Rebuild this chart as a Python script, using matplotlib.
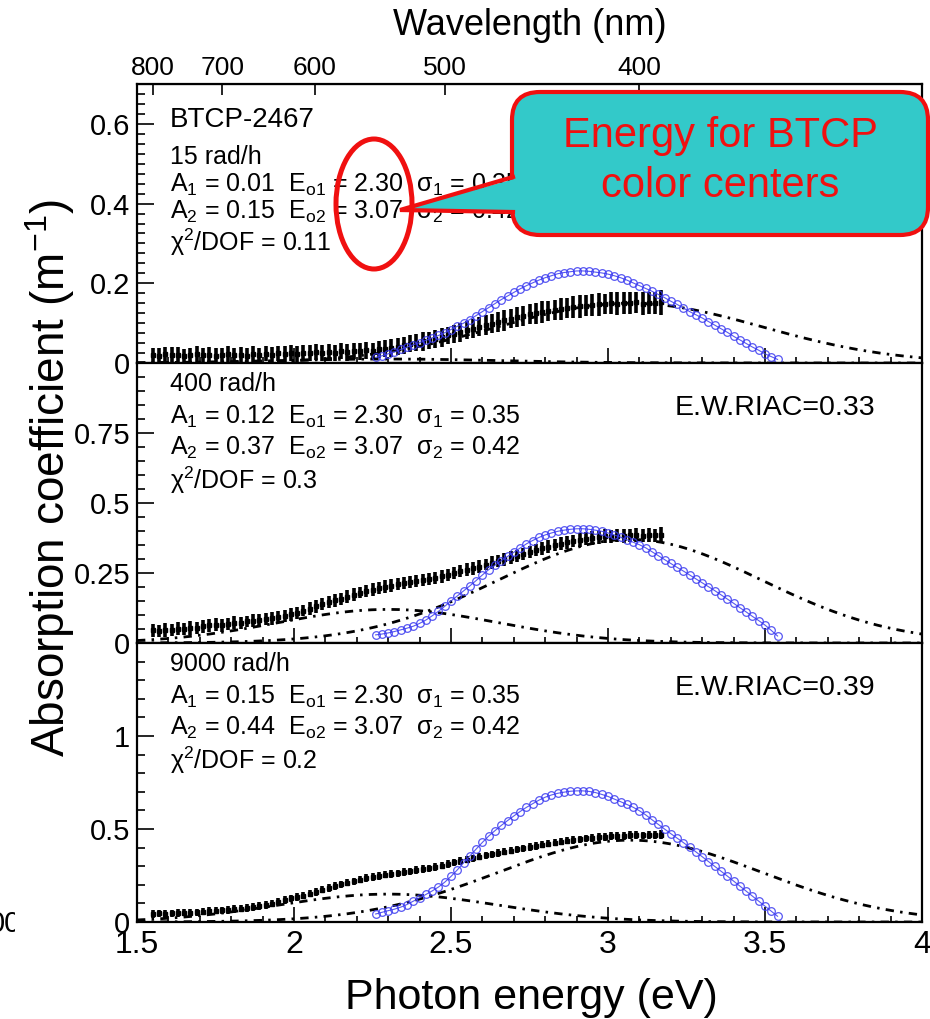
import numpy as np
import matplotlib
matplotlib.use("Agg")
from matplotlib import pyplot as plt
from matplotlib.patches import FancyBboxPatch, Polygon, Ellipse
from matplotlib.ticker import MultipleLocator, FixedLocator, NullLocator, FuncFormatter
from matplotlib.transforms import Bbox

plt.rcParams["font.family"] = ["Liberation Sans", "DejaVu Sans"]
plt.rcParams["mathtext.fontset"] = "custom"
plt.rcParams["mathtext.rm"] = "Liberation Sans"
plt.rcParams["mathtext.it"] = "Liberation Sans:italic"
plt.rcParams["lines.scale_dashes"] = False

# measured spectra, 1.55 .. 3.17 eV in 0.02 eV steps
energy = np.round(np.arange(1.55, 3.1701, 0.02), 2)

riac_15 = [.020, .018, .022, .019, .021, .017, .020, .022, .019, .021,
           .018, .020, .022, .019, .021, .018, .022, .020, .023, .021,
           .024, .022, .025, .023, .026, .024, .027, .025, .027, .026,
           .029, .027, .030, .029, .032, .031, .034, .036, .038, .041,
           .044, .048, .051, .054, .057, .061, .064, .069, .073, .077,
           .082, .086, .091, .095, .099, .103, .107, .111, .115, .118,
           .122, .125, .128, .130, .133, .135, .138, .140, .142, .144,
           .145, .147, .148, .150, .149, .151, .150, .152, .149, .151,
           .150, .152]
err_15 = [.018, .019, .017, .020, .018, .019, .017, .020, .019, .018,
          .019, .018, .020, .019, .018, .019, .020, .018, .019, .019,
          .019, .020, .019, .020, .019, .020, .020, .019, .020, .020,
          .020, .021, .020, .021, .021, .020, .021, .021, .022, .021,
          .022, .021, .022, .023, .022, .023, .023, .022, .023, .024,
          .023, .024, .024, .025, .024, .025, .026, .024, .025, .026,
          .025, .026, .027, .025, .026, .027, .026, .027, .028, .026,
          .027, .028, .026, .027, .029, .027, .028, .027, .029, .028,
          .027, .032]

riac_400 = [.045, .043, .048, .046, .051, .049, .055, .054, .060, .063,
            .066, .064, .069, .072, .071, .077, .079, .081, .085, .088,
            .092, .097, .102, .108, .116, .123, .131, .139, .146, .152,
            .158, .166, .172, .180, .186, .191, .197, .201, .205, .210,
            .214, .218, .222, .225, .229, .233, .238, .243, .249, .256,
            .262, .267, .273, .280, .286, .292, .299, .305, .311, .318,
            .325, .331, .338, .344, .349, .355, .360, .364, .368, .372,
            .375, .378, .381, .380, .383, .382, .384, .386, .383, .385,
            .384, .387]
err_400 = [.024, .022, .025, .021, .023, .022, .025, .021, .023, .022,
           .022, .023, .021, .023, .022, .021, .023, .022, .021, .023,
           .022, .021, .023, .022, .021, .022, .023, .021, .022, .022,
           .021, .022, .023, .021, .022, .022, .021, .023, .022, .021,
           .022, .021, .022, .023, .021, .022, .022, .023, .021, .022,
           .022, .023, .022, .021, .023, .022, .023, .022, .021, .023,
           .023, .022, .024, .023, .022, .024, .023, .022, .024, .023,
           .024, .023, .025, .024, .023, .025, .024, .026, .023, .025,
           .024, .028]

riac_9000 = [.045, .047, .044, .048, .047, .050, .049, .053, .055, .058,
             .061, .063, .066, .069, .072, .076, .080, .086, .092, .099,
             .110, .119, .127, .134, .142, .151, .162, .173, .184, .193,
             .202, .211, .220, .228, .235, .242, .248, .253, .258, .263,
             .268, .274, .280, .285, .290, .296, .303, .311, .320, .328,
             .336, .343, .351, .358, .365, .371, .377, .383, .390, .397,
             .404, .410, .416, .422, .427, .432, .437, .441, .445, .449,
             .452, .456, .459, .461, .463, .464, .466, .467, .466, .468,
             .469, .470]
err_9000 = [.022, .020, .023, .019, .021, .020, .023, .019, .020, .022,
            .020, .019, .021, .020, .019, .020, .021, .019, .020, .020,
            .019, .020, .019, .021, .020, .019, .020, .019, .021, .020,
            .019, .020, .019, .020, .021, .019, .020, .019, .020, .019,
            .020, .019, .021, .020, .019, .020, .019, .021, .020, .019,
            .020, .019, .020, .021, .019, .020, .019, .020, .021, .019,
            .020, .021, .019, .020, .021, .020, .019, .021, .020, .021,
            .021, .020, .022, .021, .020, .022, .021, .023, .020, .022,
            .021, .025]

# blue reference curve, 2.26 .. 3.54 eV in 0.02 eV steps
ref_energy = np.round(np.arange(2.26, 3.5401, 0.02), 2)

ref_15 = [.014, .018, .023, .028, .034, .040, .046, .051, .057, .063,
          .069, .076, .084, .092, .100, .109, .119, .129, .139, .149,
          .159, .168, .177, .186, .194, .201, .208, .214, .219, .224,
          .227, .229, .231, .231, .230, .228, .226, .223, .219, .214,
          .208, .201, .194, .187, .180, .172, .164, .155, .147, .138,
          .129, .121, .113, .104, .095, .086, .077, .067, .058, .049,
          .040, .032, .023, .016, .009]
ref_400 = [.029, .032, .036, .041, .047, .053, .060, .070, .082, .097,
           .113, .131, .150, .168, .186, .204, .223, .243, .262, .278,
           .294, .309, .324, .339, .354, .366, .377, .386, .393, .399,
           .403, .406, .408, .408, .406, .403, .399, .393, .386, .378,
           .369, .360, .351, .340, .326, .312, .298, .284, .270, .257,
           .243, .229, .215, .201, .187, .172, .157, .142, .126, .111,
           .095, .080, .064, .045, .025]
ref_9000 = [.043, .052, .061, .069, .080, .094, .112, .130, .148, .167,
            .188, .214, .245, .280, .318, .355, .392, .428, .462, .491,
            .519, .545, .570, .594, .616, .636, .655, .671, .683, .692,
            .698, .703, .705, .705, .702, .696, .686, .675, .661, .647,
            .632, .617, .598, .576, .550, .525, .500, .475, .451, .427,
            .402, .377, .351, .325, .299, .273, .247, .220, .193, .166,
            .139, .112, .085, .058, .031]

# two-gaussian fit parameters
dose_rates = ["15 rad/h", "400 rad/h", "9000 rad/h"]
amp1 = [0.01, 0.12, 0.15]
amp2 = [0.15, 0.37, 0.44]
e01, e02 = 2.30, 3.07
sig1, sig2 = 0.35, 0.42
chi2_dof = ["0.11", "0.3", "0.2"]
ew_riac = [None, "0.33", "0.39"]

spectra = [riac_15, riac_400, riac_9000]
errors = [err_15, err_400, err_9000]
ref_curves = [ref_15, ref_400, ref_9000]
y_tops = [0.7, 1.0, 1.5]
y_major = [[0, 0.2, 0.4, 0.6], [0, 0.25, 0.5, 0.75], [0, 0.5, 1.0]]
y_minor = [0.025, 0.05, 0.1]

fig = plt.figure(figsize=(9.3, 10.19), dpi=100)
left, width = 137 / 930, 785 / 930
edges = [84, 363, 643, 922]
axes = []
for i in range(3):
    bottom = 1 - edges[i + 1] / 1019
    height = (edges[i + 1] - edges[i]) / 1019
    ax = fig.add_axes([left, bottom, width, height], sharex=axes[0] if axes else None)
    axes.append(ax)

gfmt = FuncFormatter(lambda v, pos: f"{v:g}")
xs = np.linspace(1.5, 4.0, 600)
dash_dot = (6, 4.5, 1.8, 4.5)

for i, ax in enumerate(axes):
    g1 = amp1[i] * np.exp(-(xs - e01) ** 2 / (2 * sig1 ** 2))
    g2 = amp2[i] * np.exp(-(xs - e02) ** 2 / (2 * sig2 ** 2))
    ax.plot(xs, g1, color="k", lw=2, dashes=dash_dot, zorder=2)
    ax.plot(xs, g2, color="k", lw=2, dashes=dash_dot, zorder=2)
    ax.errorbar(energy, spectra[i], yerr=errors[i], fmt="s", ms=3, color="k",
                elinewidth=2.6, capsize=0, zorder=3)
    ax.plot(ref_energy, ref_curves[i], "-o", color="#3a3af0", mfc="none", ms=5.5,
            mew=0.9, lw=0.8, alpha=0.85, zorder=4)

    ax.set_xlim(1.5, 4.0)
    ax.set_ylim(0, y_tops[i])
    ax.xaxis.set_major_locator(MultipleLocator(0.5))
    ax.xaxis.set_minor_locator(MultipleLocator(0.1))
    ax.yaxis.set_major_locator(FixedLocator(y_major[i]))
    ax.yaxis.set_minor_locator(MultipleLocator(y_minor[i]))
    ax.yaxis.set_major_formatter(gfmt)
    ax.xaxis.set_major_formatter(gfmt)
    ax.tick_params(which="both", direction="in", top=False, right=False, width=1.2)
    ax.tick_params(axis="y", which="major", length=12, labelsize=21, pad=5)
    ax.tick_params(axis="y", which="minor", length=6)
    ax.tick_params(axis="x", which="major", length=11, labelsize=23, pad=6)
    ax.tick_params(axis="x", which="minor", length=4.5)
    for s in ax.spines.values():
        s.set_linewidth(1.6)
    if i < 2:
        ax.tick_params(axis="x", labelbottom=False)

    # fit summary
    tx = 0.042
    rows = [0.738, 0.638, 0.54, 0.434] if i == 0 else [0.925, 0.808, 0.695, 0.58]
    ax.text(tx, rows[0], dose_rates[i], transform=ax.transAxes, fontsize=18, va="center")
    ax.text(tx, rows[1], f"A$_1$ = {amp1[i]:.2f}  E$_{{\\mathrm{{o1}}}}$ = {e01:.2f}  σ$_1$ = {sig1:.2f}",
            transform=ax.transAxes, fontsize=18, va="center")
    ax.text(tx, rows[2], f"A$_2$ = {amp2[i]:.2f}  E$_{{\\mathrm{{o2}}}}$ = {e02:.2f}  σ$_2$ = {sig2:.2f}",
            transform=ax.transAxes, fontsize=18, va="center")
    ax.text(tx, rows[3], f"χ$^2$/DOF = {chi2_dof[i]}", transform=ax.transAxes,
            fontsize=18, va="center")
    if ew_riac[i]:
        ax.text(0.685, 0.839, f"E.W.RIAC={ew_riac[i]}", transform=ax.transAxes,
                fontsize=20.5, va="center")

axes[0].text(0.042, 0.871, "BTCP-2467", transform=axes[0].transAxes, fontsize=20, va="center")

# wavelength scale on top
hc = 1239.84
with np.errstate(divide="ignore"):
    sec = axes[0].secondary_xaxis("top", functions=(lambda e: hc / np.asarray(e, float),
                                                   lambda w: hc / np.asarray(w, float)))
sec.set_xticks([800, 700, 600, 500, 400])
sec.xaxis.set_minor_locator(NullLocator())
sec.xaxis.set_major_formatter(gfmt)
sec.tick_params(direction="in", length=8, width=1.2, labelsize=19, pad=3)
sec.set_xlabel("Wavelength (nm)", fontsize=26, labelpad=15)

fig.text(50 / 930, 1 - 478 / 1019, "Absorption coefficient (m$^{-1}$)", rotation=90,
         fontsize=33, ha="center", va="center")
fig.text(531 / 930, 1 - 998 / 1019, "Photon energy (eV)", fontsize=31,
         ha="center", va="center")

stray = fig.text(-11 / 930, 1 - 924 / 1019, "00", fontsize=21, ha="left", va="center")
stray.set_clip_box(Bbox.from_extents(0, 0, 15, 1019))
stray.set_clip_on(True)

# callout overlay in pixel coordinates
ov = fig.add_axes([0, 0, 1, 1], zorder=10)
ov.set_xlim(0, 930)
ov.set_ylim(1019, 0)
ov.axis("off")
ov.patch.set_alpha(0)
red = "#f01010"
cyan = "#33c9c9"
box = FancyBboxPatch((512, 92), 416, 143, boxstyle="round,pad=0,rounding_size=28",
                     fc=cyan, ec=red, lw=3, clip_on=False)
ov.add_patch(box)
ov.add_patch(Polygon([(522, 177), (400, 210), (522, 212)], closed=True, fc=cyan,
                     ec="none", clip_on=False))
ov.plot([513, 400, 513], [177, 210, 212], color=red, lw=3, solid_joinstyle="miter",
        clip_on=False)
ov.text(720, 136, "Energy for BTCP", color=red, fontsize=30, ha="center", va="center")
ov.text(720, 186, "color centers", color=red, fontsize=30, ha="center", va="center")
ov.add_patch(Ellipse((374, 204), 76, 130, fill=False, ec=red, lw=3.6, clip_on=False))

fig.savefig("out.png", dpi=100)
